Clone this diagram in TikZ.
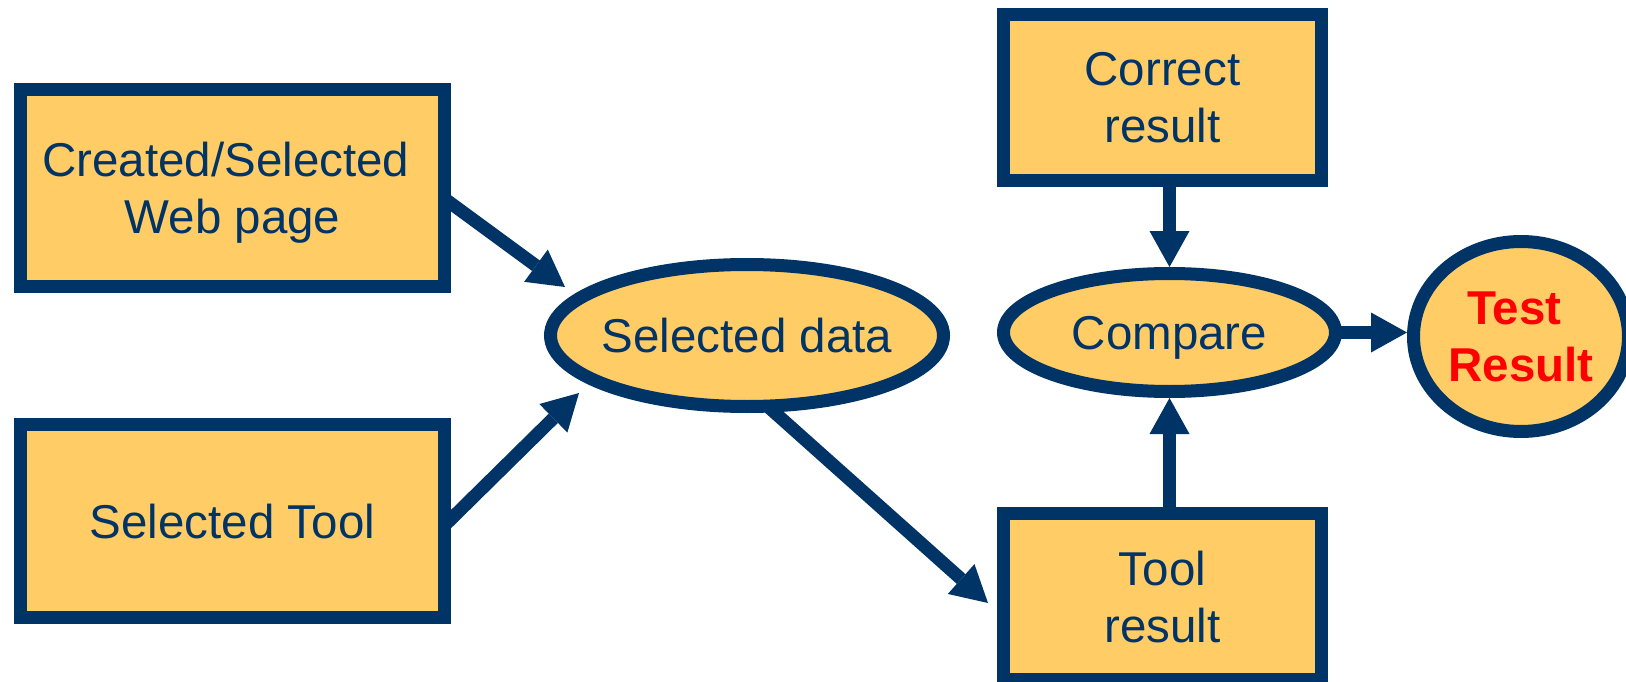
\documentclass[tikz,border=0pt]{standalone}
\usepackage{fontspec}
\setmainfont{Liberation Sans}
\usetikzlibrary{arrows.meta,shapes.geometric,calc}
\definecolor{navy}{HTML}{003366}
\definecolor{gold}{HTML}{FFCC66}
\begin{document}
\begin{tikzpicture}[x=1pt,y=-1pt,
  txtfont/.style={font=\fontsize{47.5pt}{57pt}\selectfont},
  box/.style={draw=navy, fill=gold, line width=13pt, rectangle, txtfont,
    text=navy, align=center, text depth=0pt},
  oval/.style={draw=navy, fill=gold, line width=13pt, ellipse, inner sep=0pt},
  lbl/.style={txtfont, text=navy, align=center, text depth=0pt},
  arr/.style={draw=navy, line width=13pt,
    -{Triangle[length=36pt, width=40pt, line width=0pt]}}]

\useasboundingbox (0,0) rectangle (1626,682);

% rectangular boxes
\node[box, minimum width=424pt, minimum height=197pt] (web) at (232.5,188)
  {\hbox{Created/Selected\ }\\Web page};
\node[box, minimum width=424pt, minimum height=193pt] (tool) at (232.5,521)
  {Selected Tool};
\node[box, minimum width=318pt, minimum height=166pt] (correct) at (1162.5,97.5)
  {Correct\\result};
\node[box, minimum width=318pt, minimum height=166pt] (tres) at (1162.5,596.5)
  {Tool\\result};

% ellipses
\node[oval, minimum width=393pt, minimum height=142pt,
  label={[lbl]center:Selected data}] (data) at (747,335.5) {};
\node[oval, minimum width=332pt, minimum height=118pt,
  label={[lbl]center:Compare}] (cmp) at (1169.5,332.5) {};
\node[oval, minimum width=215pt, minimum height=190pt,
  label={[lbl, text=red, font=\fontsize{47.5pt}{57pt}\selectfont\bfseries]center:{\hbox{Test\ }\\Result}}] (res) at (1521,336.5) {};

% connectors
\draw[arr] ([xshift=-6pt,yshift=-11pt]web.east) -- ($(data.center)+(-182,-48.5)$);
\draw[arr] ([xshift=-6pt,yshift=-4pt]tool.east) -- ($(data.center)+(-168,57.5)$);
\draw[arr] ($(data.center)+(22,72)$) -- ([xshift=-9pt,yshift=-6.5pt]tres.west);
\draw[arr] ([yshift=6pt]correct.south -| cmp.north) -- (cmp.north);
\draw[arr] ([yshift=-6pt]tres.north -| cmp.south) -- (cmp.south);
\draw[arr] ([xshift=-6pt]cmp.east) -- (cmp.east -| res.west);
\end{tikzpicture}
\end{document}
